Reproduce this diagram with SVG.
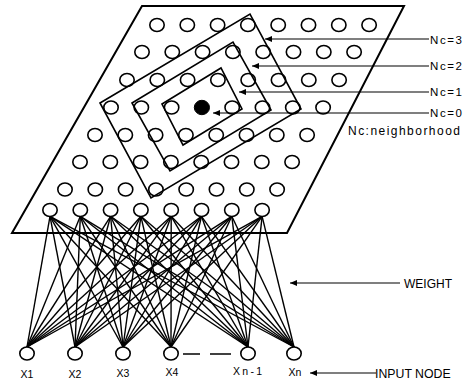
<svg xmlns="http://www.w3.org/2000/svg" width="473" height="382" viewBox="0 0 473 382">
<style>
.n{fill:#fff;stroke:#000;stroke-width:1.6}
.f{fill:#000;stroke:#000;stroke-width:1}
.w{stroke:#000;stroke-width:1.4;fill:none}
.sq{fill:none;stroke:#000;stroke-width:1.6;stroke-linejoin:miter}
.ar{stroke:#000;stroke-width:1.1;fill:none;marker-end:url(#ah)}
.t{font-family:"Liberation Sans",Arial,sans-serif;fill:#000}
</style>
<defs>
<marker id="ah" markerUnits="userSpaceOnUse" markerWidth="8" markerHeight="6" refX="7" refY="3" orient="auto"><path d="M0,0 L7,3 L0,6 z" fill="#000"/></marker>
</defs>
<rect width="473" height="382" fill="#fff"/>
<g id="plane"><polygon points="142,6 404,6 287,233 12,233" fill="none" stroke="#000" stroke-width="2"/></g>
<g id="connectors">
<line class="w" x1="27" y1="347" x2="50" y2="216.3"/><line class="w" x1="27" y1="347" x2="80.3" y2="216.3"/><line class="w" x1="27" y1="347" x2="110.6" y2="216.3"/><line class="w" x1="27" y1="347" x2="140.9" y2="216.3"/><line class="w" x1="27" y1="347" x2="171.2" y2="216.3"/><line class="w" x1="27" y1="347" x2="201.5" y2="216.3"/><line class="w" x1="27" y1="347" x2="231.8" y2="216.3"/><line class="w" x1="27" y1="347" x2="262.1" y2="216.3"/>
<line class="w" x1="75" y1="347" x2="50" y2="216.3"/><line class="w" x1="75" y1="347" x2="80.3" y2="216.3"/><line class="w" x1="75" y1="347" x2="110.6" y2="216.3"/><line class="w" x1="75" y1="347" x2="140.9" y2="216.3"/><line class="w" x1="75" y1="347" x2="171.2" y2="216.3"/><line class="w" x1="75" y1="347" x2="201.5" y2="216.3"/><line class="w" x1="75" y1="347" x2="231.8" y2="216.3"/><line class="w" x1="75" y1="347" x2="262.1" y2="216.3"/>
<line class="w" x1="123" y1="347" x2="50" y2="216.3"/><line class="w" x1="123" y1="347" x2="80.3" y2="216.3"/><line class="w" x1="123" y1="347" x2="110.6" y2="216.3"/><line class="w" x1="123" y1="347" x2="140.9" y2="216.3"/><line class="w" x1="123" y1="347" x2="171.2" y2="216.3"/><line class="w" x1="123" y1="347" x2="201.5" y2="216.3"/><line class="w" x1="123" y1="347" x2="231.8" y2="216.3"/><line class="w" x1="123" y1="347" x2="262.1" y2="216.3"/>
<line class="w" x1="171" y1="347" x2="50" y2="216.3"/><line class="w" x1="171" y1="347" x2="80.3" y2="216.3"/><line class="w" x1="171" y1="347" x2="110.6" y2="216.3"/><line class="w" x1="171" y1="347" x2="140.9" y2="216.3"/><line class="w" x1="171" y1="347" x2="171.2" y2="216.3"/><line class="w" x1="171" y1="347" x2="201.5" y2="216.3"/><line class="w" x1="171" y1="347" x2="231.8" y2="216.3"/><line class="w" x1="171" y1="347" x2="262.1" y2="216.3"/>
<line class="w" x1="248" y1="347" x2="50" y2="216.3"/><line class="w" x1="248" y1="347" x2="80.3" y2="216.3"/><line class="w" x1="248" y1="347" x2="110.6" y2="216.3"/><line class="w" x1="248" y1="347" x2="140.9" y2="216.3"/><line class="w" x1="248" y1="347" x2="171.2" y2="216.3"/><line class="w" x1="248" y1="347" x2="201.5" y2="216.3"/><line class="w" x1="248" y1="347" x2="231.8" y2="216.3"/><line class="w" x1="248" y1="347" x2="262.1" y2="216.3"/>
<line class="w" x1="294" y1="347" x2="50" y2="216.3"/><line class="w" x1="294" y1="347" x2="80.3" y2="216.3"/><line class="w" x1="294" y1="347" x2="110.6" y2="216.3"/><line class="w" x1="294" y1="347" x2="140.9" y2="216.3"/><line class="w" x1="294" y1="347" x2="171.2" y2="216.3"/><line class="w" x1="294" y1="347" x2="201.5" y2="216.3"/><line class="w" x1="294" y1="347" x2="231.8" y2="216.3"/><line class="w" x1="294" y1="347" x2="262.1" y2="216.3"/>
</g>
<g id="map-nodes">
<g id="m1_1"><ellipse class="n" cx="157" cy="25" rx="7.2" ry="6.5"/></g><g id="m1_2"><ellipse class="n" cx="187.3" cy="25" rx="7.2" ry="6.5"/></g><g id="m1_3"><ellipse class="n" cx="217.6" cy="25" rx="7.2" ry="6.5"/></g><g id="m1_4"><ellipse class="n" cx="247.9" cy="25" rx="7.2" ry="6.5"/></g><g id="m1_5"><ellipse class="n" cx="278.2" cy="25" rx="7.2" ry="6.5"/></g><g id="m1_6"><ellipse class="n" cx="308.5" cy="25" rx="7.2" ry="6.5"/></g><g id="m1_7"><ellipse class="n" cx="338.8" cy="25" rx="7.2" ry="6.5"/></g><g id="m1_8"><ellipse class="n" cx="369.1" cy="25" rx="7.2" ry="6.5"/></g>
<g id="m2_1"><ellipse class="n" cx="142" cy="52" rx="7.2" ry="6.5"/></g><g id="m2_2"><ellipse class="n" cx="172.3" cy="52" rx="7.2" ry="6.5"/></g><g id="m2_3"><ellipse class="n" cx="202.6" cy="52" rx="7.2" ry="6.5"/></g><g id="m2_4"><ellipse class="n" cx="232.9" cy="52" rx="7.2" ry="6.5"/></g><g id="m2_5"><ellipse class="n" cx="263.2" cy="52" rx="7.2" ry="6.5"/></g><g id="m2_6"><ellipse class="n" cx="293.5" cy="52" rx="7.2" ry="6.5"/></g><g id="m2_7"><ellipse class="n" cx="323.8" cy="52" rx="7.2" ry="6.5"/></g><g id="m2_8"><ellipse class="n" cx="354.1" cy="52" rx="7.2" ry="6.5"/></g>
<g id="m3_1"><ellipse class="n" cx="127" cy="80" rx="7.2" ry="6.5"/></g><g id="m3_2"><ellipse class="n" cx="157.3" cy="80" rx="7.2" ry="6.5"/></g><g id="m3_3"><ellipse class="n" cx="187.6" cy="80" rx="7.2" ry="6.5"/></g><g id="m3_4"><ellipse class="n" cx="217.9" cy="80" rx="7.2" ry="6.5"/></g><g id="m3_5"><ellipse class="n" cx="248.2" cy="80" rx="7.2" ry="6.5"/></g><g id="m3_6"><ellipse class="n" cx="278.5" cy="80" rx="7.2" ry="6.5"/></g><g id="m3_7"><ellipse class="n" cx="308.8" cy="80" rx="7.2" ry="6.5"/></g><g id="m3_8"><ellipse class="n" cx="339.1" cy="80" rx="7.2" ry="6.5"/></g>
<g id="m4_1"><ellipse class="n" cx="111" cy="107.5" rx="7.2" ry="6.5"/></g><g id="m4_2"><ellipse class="n" cx="141.3" cy="107.5" rx="7.2" ry="6.5"/></g><g id="m4_3"><ellipse class="n" cx="171.6" cy="107.5" rx="7.2" ry="6.5"/></g><g id="winner"><ellipse class="f" cx="201.9" cy="107.5" rx="7.6" ry="7.2"/></g><g id="m4_5"><ellipse class="n" cx="232.2" cy="107.5" rx="7.2" ry="6.5"/></g><g id="m4_6"><ellipse class="n" cx="262.5" cy="107.5" rx="7.2" ry="6.5"/></g><g id="m4_7"><ellipse class="n" cx="292.8" cy="107.5" rx="7.2" ry="6.5"/></g><g id="m4_8"><ellipse class="n" cx="323.1" cy="107.5" rx="7.2" ry="6.5"/></g>
<g id="m5_1"><ellipse class="n" cx="95" cy="135" rx="7.2" ry="6.5"/></g><g id="m5_2"><ellipse class="n" cx="125.3" cy="135" rx="7.2" ry="6.5"/></g><g id="m5_3"><ellipse class="n" cx="155.6" cy="135" rx="7.2" ry="6.5"/></g><g id="m5_4"><ellipse class="n" cx="185.9" cy="135" rx="7.2" ry="6.5"/></g><g id="m5_5"><ellipse class="n" cx="216.2" cy="135" rx="7.2" ry="6.5"/></g><g id="m5_6"><ellipse class="n" cx="246.5" cy="135" rx="7.2" ry="6.5"/></g><g id="m5_7"><ellipse class="n" cx="276.8" cy="135" rx="7.2" ry="6.5"/></g><g id="m5_8"><ellipse class="n" cx="307.1" cy="135" rx="7.2" ry="6.5"/></g>
<g id="m6_1"><ellipse class="n" cx="80" cy="162" rx="7.2" ry="6.5"/></g><g id="m6_2"><ellipse class="n" cx="110.3" cy="162" rx="7.2" ry="6.5"/></g><g id="m6_3"><ellipse class="n" cx="140.6" cy="162" rx="7.2" ry="6.5"/></g><g id="m6_4"><ellipse class="n" cx="170.9" cy="162" rx="7.2" ry="6.5"/></g><g id="m6_5"><ellipse class="n" cx="201.2" cy="162" rx="7.2" ry="6.5"/></g><g id="m6_6"><ellipse class="n" cx="231.5" cy="162" rx="7.2" ry="6.5"/></g><g id="m6_7"><ellipse class="n" cx="261.8" cy="162" rx="7.2" ry="6.5"/></g><g id="m6_8"><ellipse class="n" cx="292.1" cy="162" rx="7.2" ry="6.5"/></g>
<g id="m7_1"><ellipse class="n" cx="65" cy="189.5" rx="7.2" ry="6.5"/></g><g id="m7_2"><ellipse class="n" cx="95.3" cy="189.5" rx="7.2" ry="6.5"/></g><g id="m7_3"><ellipse class="n" cx="125.6" cy="189.5" rx="7.2" ry="6.5"/></g><g id="m7_4"><ellipse class="n" cx="155.9" cy="189.5" rx="7.2" ry="6.5"/></g><g id="m7_5"><ellipse class="n" cx="186.2" cy="189.5" rx="7.2" ry="6.5"/></g><g id="m7_6"><ellipse class="n" cx="216.5" cy="189.5" rx="7.2" ry="6.5"/></g><g id="m7_7"><ellipse class="n" cx="246.8" cy="189.5" rx="7.2" ry="6.5"/></g><g id="m7_8"><ellipse class="n" cx="277.1" cy="189.5" rx="7.2" ry="6.5"/></g>
<g id="m8_1"><ellipse class="n" cx="50" cy="210" rx="7.2" ry="6.5"/></g><g id="m8_2"><ellipse class="n" cx="80.3" cy="210" rx="7.2" ry="6.5"/></g><g id="m8_3"><ellipse class="n" cx="110.6" cy="210" rx="7.2" ry="6.5"/></g><g id="m8_4"><ellipse class="n" cx="140.9" cy="210" rx="7.2" ry="6.5"/></g><g id="m8_5"><ellipse class="n" cx="171.2" cy="210" rx="7.2" ry="6.5"/></g><g id="m8_6"><ellipse class="n" cx="201.5" cy="210" rx="7.2" ry="6.5"/></g><g id="m8_7"><ellipse class="n" cx="231.8" cy="210" rx="7.2" ry="6.5"/></g><g id="m8_8"><ellipse class="n" cx="262.1" cy="210" rx="7.2" ry="6.5"/></g>
</g>
<g id="neighborhoods">
<polygon class="sq" points="100,103 250,14 301,109 151,198"/>
<polygon class="sq" points="132,103 233,42 271,110 170,171"/>
<polygon class="sq" points="162,104 221,68 242,109 183,145"/>
</g>
<g id="labels-nc">
<line class="ar" x1="429" y1="39" x2="265" y2="39"/>
<line class="ar" x1="429" y1="66" x2="252" y2="66"/>
<line class="ar" x1="429" y1="92" x2="239" y2="92"/>
<line class="ar" x1="429" y1="113" x2="213" y2="113"/>
<text class="t" x="430" y="43.5" font-size="11.5" textLength="32" lengthAdjust="spacing">Nc=3</text>
<text class="t" x="430" y="70" font-size="11.5" textLength="32" lengthAdjust="spacing">Nc=2</text>
<text class="t" x="430" y="96" font-size="11.5" textLength="32" lengthAdjust="spacing">Nc=1</text>
<text class="t" x="430" y="117" font-size="11.5" textLength="32" lengthAdjust="spacing">Nc=0</text>
<text class="t" x="348" y="135" font-size="12" textLength="112" lengthAdjust="spacing">Nc:neighborhood</text>
</g>
<g id="inputs">
<g id="x1"><ellipse class="n" cx="27" cy="353.5" rx="7.2" ry="6.5"/><text class="t" x="27" y="378" font-size="10.5" text-anchor="middle">X1</text></g>
<g id="x2"><ellipse class="n" cx="75" cy="353.5" rx="7.2" ry="6.5"/><text class="t" x="75" y="378" font-size="10.5" text-anchor="middle">X2</text></g>
<g id="x3"><ellipse class="n" cx="123" cy="353.5" rx="7.2" ry="6.5"/><text class="t" x="123" y="377" font-size="10.5" text-anchor="middle">X3</text></g>
<g id="x4"><ellipse class="n" cx="171" cy="353.5" rx="7.2" ry="6.5"/><text class="t" x="172" y="376" font-size="10.5" text-anchor="middle">X4</text></g>
<g id="xn1"><ellipse class="n" cx="248" cy="353.5" rx="7.2" ry="6.5"/><text class="t" x="233" y="375" font-size="10.5" textLength="29" lengthAdjust="spacing">Xn-1</text></g>
<g id="xn"><ellipse class="n" cx="294" cy="353.5" rx="7.2" ry="6.5"/><text class="t" x="295" y="376" font-size="10.5" text-anchor="middle">Xn</text></g>
<line x1="183" y1="354" x2="200" y2="354" stroke="#000" stroke-width="1.5"/>
<line x1="210" y1="354" x2="231" y2="354" stroke="#000" stroke-width="1.5"/>
</g>
<g id="labels-side">
<line class="ar" x1="400" y1="283" x2="290" y2="283"/>
<text class="t" x="404" y="287.5" font-size="12">WEIGHT</text>
<line class="ar" x1="376" y1="373" x2="310" y2="373"/>
<text class="t" x="375" y="377.5" font-size="12.3">INPUT NODE</text>
</g>
</svg>
